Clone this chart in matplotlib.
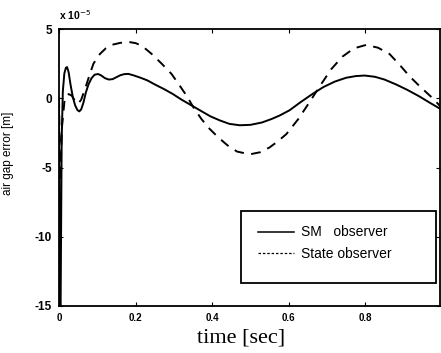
import numpy as np
import matplotlib
matplotlib.use('Agg')
import matplotlib.pyplot as plt
from matplotlib.patches import Rectangle
from matplotlib.lines import Line2D

# values, y in units of 1e-5 m
t_sm = [0.000, 0.002, 0.004, 0.007, 0.010, 0.014, 0.018, 0.021, 0.025, 0.030,
        0.036, 0.042, 0.048, 0.053, 0.058, 0.064, 0.070, 0.077, 0.085, 0.093,
        0.102, 0.110, 0.120, 0.130, 0.140, 0.150, 0.160, 0.170, 0.181, 0.195,
        0.211, 0.230, 0.250, 0.275, 0.297, 0.320, 0.345, 0.368, 0.395, 0.420,
        0.445, 0.472, 0.500, 0.530, 0.555, 0.576, 0.602, 0.630, 0.662, 0.690,
        0.720, 0.750, 0.775, 0.798, 0.825, 0.850, 0.880, 0.910, 0.940, 0.970,
        0.996]
e_sm = [0.0, -14.0, -16.0, -3.0, 0.5, 1.8, 2.2, 2.25, 1.9, 1.0,
        0.1, -0.5, -0.85, -0.95, -0.8, -0.3, 0.4, 1.0, 1.45, 1.7,
        1.75, 1.65, 1.45, 1.35, 1.38, 1.52, 1.66, 1.74, 1.76, 1.65,
        1.5, 1.3, 1.0, 0.65, 0.31, -0.1, -0.5, -0.87, -1.3, -1.6,
        -1.85, -1.95, -1.92, -1.75, -1.5, -1.25, -0.87, -0.3, 0.31, 0.8,
        1.2, 1.48, 1.6, 1.64, 1.55, 1.35, 1.0, 0.6, 0.15, -0.35,
        -0.77]

t_st = [0.000, 0.003, 0.008, 0.015, 0.025, 0.033, 0.042, 0.050, 0.058, 0.068,
        0.080, 0.090, 0.107, 0.122, 0.137, 0.160, 0.185, 0.200, 0.216, 0.242,
        0.268, 0.294, 0.313, 0.333, 0.352, 0.372, 0.393, 0.415, 0.440, 0.465,
        0.498, 0.525, 0.550, 0.572, 0.594, 0.625, 0.654, 0.683, 0.711, 0.740,
        0.770, 0.802, 0.833, 0.863, 0.890, 0.915, 0.937, 0.959, 0.980, 0.996]
e_st = [0.0, -6.0, -2.0, 0.0, 0.3, 0.2, -0.2, -0.4, -0.1, 0.67,
        1.7, 2.5, 3.2, 3.6, 3.85, 4.0, 4.05, 3.98, 3.8, 3.2,
        2.5, 1.75, 1.0, 0.19, -0.7, -1.5, -2.2, -2.8, -3.4, -3.85,
        -4.05, -3.9, -3.55, -3.1, -2.58, -1.5, -0.29, 0.95, 2.1, 3.0,
        3.6, 3.85, 3.65, 3.2, 2.4, 1.6, 1.0, 0.43, -0.1, -0.6]

xticks = [0, 0.2, 0.4, 0.6, 0.8]
xticklabels = ['0', '0.2', '0.4', '0.6', '0.8']
yticks = [-15, -10, -5, 0, 5]

plt.rcParams['font.family'] = ['Liberation Sans', 'DejaVu Sans']

fig = plt.figure(figsize=(4.41, 3.53), dpi=100)
ax = fig.add_axes([59/441, 47/353, 381/441, 277/353])

ax.plot(t_sm, e_sm, color='black', lw=1.4)
ax.plot(t_st, e_st, color='black', lw=1.4, dashes=(5, 3.8))

ax.set_xlim(0, 0.995)
ax.set_ylim(-15, 5)
ax.set_xticks(xticks)
ax.set_xticklabels(xticklabels, fontsize=7, fontweight='bold')
ax.set_yticks(yticks)
ax.set_yticklabels([str(v) for v in yticks], fontsize=8.5, fontweight='bold')
ax.tick_params(direction='in', length=3, width=0.8, top=True, right=True)
ax.tick_params(axis='x', pad=5)
ax.tick_params(axis='y', pad=5)
for s in ax.spines.values():
    s.set_linewidth(1.3)

ax.set_xlabel('time [sec]', family='Liberation Serif', fontsize=16)
ax.xaxis.set_label_coords(0.478, -0.08)
ax.set_ylabel('air gap error [m]', fontsize=8.5)
ax.yaxis.set_label_coords(-0.117, 0.55)
ax.text(0.0, 1.025, r'x 10$^{-5}$', transform=ax.transAxes, fontsize=7.5,
        fontweight='bold', ha='left', va='bottom')

# legend box drawn by hand, entries sit in its upper part
ax.add_patch(Rectangle((182/381, 23/277), 195/381, 72/277, transform=ax.transAxes,
                       facecolor='white', edgecolor='black', lw=1.3, zorder=5))
handles = [Line2D([0], [0], color='black', lw=1.1),
           Line2D([0], [0], color='black', lw=0.9, dashes=(2, 1.5))]
leg = ax.legend(handles, ['SM   observer', 'State observer'], loc='upper left',
                bbox_to_anchor=(186/381, 93/277), frameon=False, fontsize=10,
                handlelength=2.6, handletextpad=0.5, labelspacing=0.55)
leg.set_zorder(6)

fig.savefig('out.png', dpi=100)
